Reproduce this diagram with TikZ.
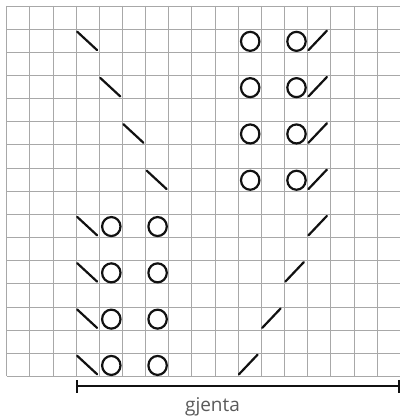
\documentclass[tikz,border=0pt]{standalone}
\usepackage{fontspec}
\setsansfont{Open Sans}
\usetikzlibrary{arrows.meta,positioning}
\definecolor{Grid}{HTML}{A8A8A8}
\definecolor{Ink}{HTML}{111111}
\definecolor{Label}{HTML}{5A5A5A}

\begin{document}
\begin{tikzpicture}[x=1pt,y=-1pt]
    \useasboundingbox[fill=white] (0,0) rectangle (400,420);
    % chart grid
    \foreach \i in {0,...,16}
      \draw[Grid,line width=0.9pt] ({6.7+\i*23.15},6) -- ({6.7+\i*23.15},376.4);
    \foreach \j in {0,...,16}
      \draw[Grid,line width=0.9pt] (6.7,{6+\j*23.15}) -- (400,{6+\j*23.15});
    % left to right decreases
    \foreach \c/\r in {3/1,4/3,5/5,6/7,3/9,3/11,3/13,3/15}
      \draw[Ink,line width=2.2pt,line cap=round] ({6.7+\c*23.15+1},{6+\r*23.15+2.5}) -- ++(20,18.5);
    % right to left decreases
    \foreach \c/\r in {13/1,13/3,13/5,13/7,13/9,12/11,11/13,10/15}
      \draw[Ink,line width=2.2pt,line cap=round] ({6.7+\c*23.15+0.8},{6+\r*23.15+21}) -- ++(18.5,-19.5);
    % yarn overs
    \foreach \c/\r in {10/1,12/1,10/3,12/3,10/5,12/5,10/7,12/7,4/9,6/9,4/11,6/11,4/13,6/13,4/15,6/15}
      \draw[Ink,line width=2.2pt] ({6.7+\c*23.15+12},{6+\r*23.15+12.2}) ellipse [x radius=9.2pt,y radius=9.5pt];
    % repeat bar
    \coordinate (repL) at (75.7,386.4);
    \coordinate (repR) at (399.5,386.4);
    \draw[Ink,line width=2pt,{Bar[width=13pt]}-{Bar[width=13pt]}] (repL) -- (repR);
    \node[anchor=base,text=Label,font=\sffamily\fontsize{19}{22}\selectfont] (rep) at (212.5,411) {gjenta};
  \end{tikzpicture}
\end{document}
